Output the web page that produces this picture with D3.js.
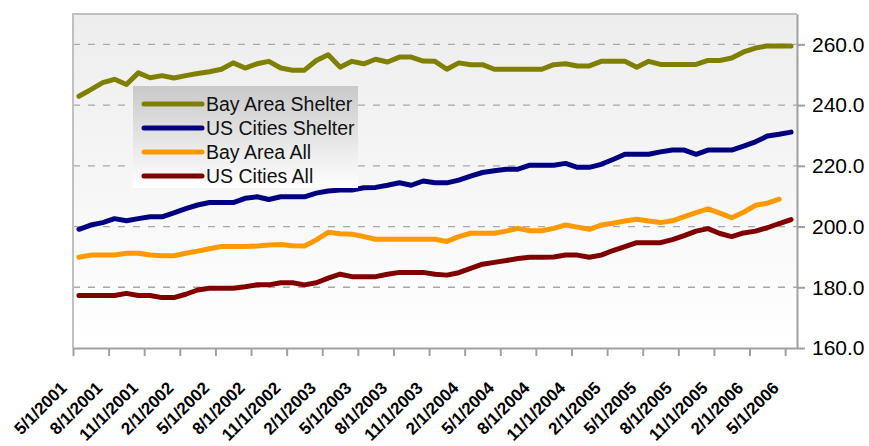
<!DOCTYPE html>
<html>
<head>
<meta charset="utf-8">
<script src="https://cdn.jsdelivr.net/npm/d3@7"></script>
<style>
  html, body { margin: 0; padding: 0; background: #ffffff; }
  svg { display: block; }
  text { font-family: "Liberation Sans", Arial, sans-serif; }
</style>
</head>
<body>
<svg id="chart" width="869" height="446"></svg>
<script>
// Monthly index values, May 2001 through May 2006
const firstMonth = new Date(2001, 4, 1);
const lastMonth = new Date(2006, 4, 1);

const bayAreaShelter = [
  242.9, 245.1, 247.4, 248.5, 246.8, 250.6, 249.0, 249.7, 248.9, 249.7,
  250.4, 251.0, 251.8, 253.9, 252.2, 253.6, 254.4, 252.2, 251.5, 251.5,
  254.7, 256.6, 252.5, 254.4, 253.6, 255.1, 254.2, 255.8, 255.8, 254.5,
  254.4, 251.8, 253.9, 253.3, 253.3, 251.8, 251.8, 251.8, 251.8, 251.8,
  253.3, 253.6, 252.9, 252.9, 254.4, 254.4, 254.4, 252.5, 254.4, 253.4,
  253.4, 253.4, 253.4, 254.7, 254.7, 255.5, 257.5, 258.8, 259.5, 259.5,
  259.5
];

const usCitiesShelter = [
  199.1, 200.5, 201.3, 202.6, 201.9, 202.6, 203.2, 203.2, 204.5, 205.9,
  207.1, 207.9, 207.9, 207.9, 209.3, 209.8, 208.9, 209.8, 209.8, 209.8,
  211.0, 211.7, 212.0, 212.0, 212.8, 212.9, 213.6, 214.4, 213.6, 215.0,
  214.4, 214.4, 215.3, 216.6, 217.8, 218.4, 218.9, 218.9, 220.2, 220.2,
  220.2, 220.8, 219.5, 219.5, 220.5, 222.1, 223.8, 223.8, 223.8, 224.6,
  225.2, 225.2, 223.8, 225.2, 225.2, 225.2, 226.5, 227.9, 229.8, 230.4,
  231.1
];

const bayAreaAll = [
  189.9, 190.6, 190.6, 190.6, 191.2, 191.2, 190.6, 190.4, 190.4, 191.2,
  191.9, 192.7, 193.4, 193.4, 193.4, 193.6, 193.9, 194.1, 193.7, 193.6,
  195.6, 198.1, 197.6, 197.5, 196.7, 195.8, 195.8, 195.8, 195.8, 195.8,
  195.8, 195.1, 196.7, 197.8, 197.8, 197.8, 198.5, 199.4, 198.6, 198.6,
  199.4, 200.5, 199.8, 199.1, 200.5, 201.1, 201.8, 202.4, 201.8, 201.3,
  201.9, 203.3, 204.6, 205.8, 204.4, 202.9, 204.7, 207.0, 207.7, 209.0
];

const usCitiesAll = [
  177.3, 177.3, 177.3, 177.3, 178.0, 177.3, 177.3, 176.6, 176.6, 177.7,
  179.1, 179.7, 179.7, 179.7, 180.2, 180.8, 180.8, 181.5, 181.5, 180.8,
  181.5, 183.0, 184.3, 183.5, 183.5, 183.5, 184.3, 184.9, 184.9, 184.9,
  184.3, 184.0, 184.8, 186.2, 187.6, 188.2, 188.8, 189.5, 189.9, 189.9,
  190.0, 190.6, 190.6, 189.9, 190.6, 192.1, 193.4, 194.7, 194.7, 194.7,
  195.7, 197.0, 198.5, 199.3, 197.7, 196.7, 197.9, 198.5, 199.6, 201.0,
  202.3
];

const seriesNames = ["Bay Area Shelter", "US Cities Shelter", "Bay Area All", "US Cities All"];
const seriesColors = ["#808000", "#000080", "#ff9900", "#800000"];
const yTicks = [160, 180, 200, 220, 240, 260];
const labelEvery = 3;

// ---- layout ----
const plot = { left: 73, top: 14, right: 797, bottom: 348 };
const fmtDate = d3.timeFormat("%-m/%-d/%Y");
const months = d3.timeMonth.range(firstMonth, d3.timeMonth.offset(lastMonth, 1));
const categories = months.map(fmtDate);

const svg = d3.select("#chart");

const x = d3.scaleBand().domain(categories).range([plot.left, plot.right]).paddingInner(0).paddingOuter(0);
const xEdge = d3.scaleLinear().domain([0, categories.length]).range([plot.left, plot.right]);
const y = d3.scaleLinear().domain([160, 270]).range([plot.bottom, plot.top]);

const defs = svg.append("defs");
const plotGrad = defs.append("linearGradient").attr("id", "plotBg")
  .attr("x1", 0).attr("y1", 0).attr("x2", 0).attr("y2", 1);
plotGrad.append("stop").attr("offset", "0%").attr("stop-color", "#ededed");
plotGrad.append("stop").attr("offset", "100%").attr("stop-color", "#ffffff");

const legendGrad = defs.append("linearGradient").attr("id", "legendBg")
  .attr("x1", 0).attr("y1", 0).attr("x2", 0).attr("y2", 1);
legendGrad.append("stop").attr("offset", "0%").attr("stop-color", "#c9c9c9");
legendGrad.append("stop").attr("offset", "100%").attr("stop-color", "#ffffff");

// plot area background
svg.append("rect")
  .attr("x", plot.left).attr("y", plot.top)
  .attr("width", plot.right - plot.left).attr("height", plot.bottom - plot.top)
  .attr("fill", "url(#plotBg)");

// horizontal dashed gridlines
svg.append("g").selectAll("line")
  .data(yTicks.filter(v => v > 160))
  .join("line")
  .attr("x1", plot.left).attr("x2", plot.right)
  .attr("y1", d => y(d)).attr("y2", d => y(d))
  .attr("stroke", "#a8a8a8").attr("stroke-width", 1.3)
  .attr("stroke-dasharray", "7,8");

// top and left frame
svg.append("path")
  .attr("d", `M${plot.left},${plot.bottom}V${plot.top}H${plot.right}`)
  .attr("fill", "none").attr("stroke", "#c0c0c0").attr("stroke-width", 2);

// series lines
const series = [bayAreaShelter, usCitiesShelter, bayAreaAll, usCitiesAll];
const line = d3.line()
  .x((d, i) => x(categories[i]) + x.bandwidth() / 2)
  .y(d => y(d));

svg.append("g").selectAll("path")
  .data(series)
  .join("path")
  .attr("d", d => line(d))
  .attr("fill", "none")
  .attr("stroke", (d, i) => seriesColors[i])
  .attr("stroke-width", 5)
  .attr("stroke-linejoin", "round")
  .attr("stroke-linecap", "round");

// bottom category axis: ticks on category boundaries
const tickIdx = d3.range(0, categories.length, labelEvery);
const xAxis = svg.append("g")
  .attr("transform", `translate(0,${plot.bottom})`)
  .call(d3.axisBottom(xEdge).tickValues(tickIdx).tickFormat("").tickSize(8).tickSizeOuter(0));
xAxis.select(".domain").attr("stroke", "#a0a0a0").attr("stroke-width", 2);
xAxis.selectAll(".tick line").attr("stroke", "#a0a0a0").attr("stroke-width", 2);

// rotated date labels
svg.append("g").selectAll("text")
  .data(tickIdx)
  .join("text")
  .attr("transform", i => `translate(${x(categories[i]) + x.bandwidth() / 2 - 11},${plot.bottom + 41}) rotate(-45)`)
  .attr("text-anchor", "end")
  .attr("font-size", 17)
  .attr("font-weight", "bold")
  .attr("fill", "#000")
  .text(i => categories[i]);

// right value axis
const yAxis = svg.append("g")
  .attr("transform", `translate(${plot.right},0)`)
  .call(d3.axisRight(y).tickValues(yTicks).tickFormat(d3.format(".1f")).tickSize(8).tickPadding(7).tickSizeOuter(0));
yAxis.select(".domain").attr("stroke", "#a0a0a0").attr("stroke-width", 2);
yAxis.selectAll(".tick line").attr("stroke", "#a0a0a0").attr("stroke-width", 2);
yAxis.selectAll(".tick text")
  .attr("font-family", "'Liberation Sans', Arial, sans-serif")
  .attr("font-size", 21).attr("fill", "#000");

// legend
const legend = svg.append("g").attr("transform", "translate(133,86)");
legend.append("rect")
  .attr("width", 225).attr("height", 102)
  .attr("fill", "url(#legendBg)");
const item = legend.selectAll("g.item")
  .data(seriesNames)
  .join("g").attr("class", "item")
  .attr("transform", (d, i) => `translate(0,${18 + i * 24})`);
item.append("line")
  .attr("x1", 11).attr("x2", 69).attr("y1", 0).attr("y2", 0)
  .attr("stroke", (d, i) => seriesColors[i])
  .attr("stroke-width", 5).attr("stroke-linecap", "round");
item.append("text")
  .attr("x", 73).attr("y", 0).attr("dy", "0.36em")
  .attr("font-size", 19.5).attr("fill", "#111")
  .text(d => d);
</script>
</body>
</html>
